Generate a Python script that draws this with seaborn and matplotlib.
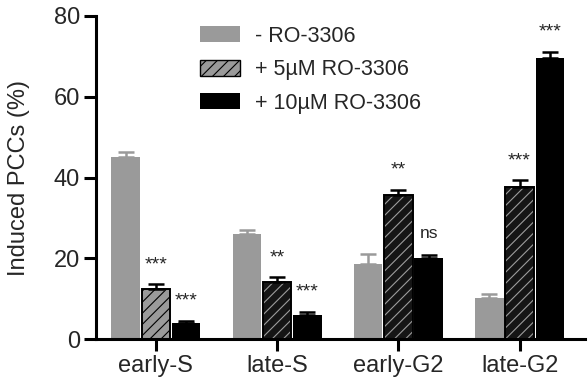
import numpy as np
import pandas as pd
import matplotlib.pyplot as plt
import seaborn as sns
from matplotlib.patches import Patch, Rectangle

# --- data ---
phases = ['early-S', 'late-S', 'early-G2', 'late-G2']
treatments = ['- RO-3306', '+ 5µM RO-3306', '+ 10µM RO-3306']
no_ro = [45.2, 26.1, 18.6, 10.2]
ro_5 = [12.4, 14.2, 35.6, 37.7]
ro_10 = [4.0, 6.0, 20.0, 69.5]
err_no_ro = [1.2, 1.0, 2.5, 1.0]
err_ro_5 = [1.3, 1.1, 1.4, 1.7]
err_ro_10 = [0.6, 0.8, 0.9, 1.7]
sig_ro_5 = ['***', '**', '**', '***']
sig_ro_10 = ['***', '***', 'ns', '***']

values = [no_ro, ro_5, ro_10]
errors = [err_no_ro, err_ro_5, err_ro_10]
signif = [None, sig_ro_5, sig_ro_10]

df = pd.DataFrame({
    'phase': np.tile(phases, 3),
    'treatment': np.repeat(treatments, 4),
    'pct': no_ro + ro_5 + ro_10,
})

sns.set_style('ticks')
plt.rcParams['font.family'] = ['Liberation Sans', 'DejaVu Sans']
plt.rcParams['hatch.linewidth'] = 0.8

gray = '#9a9a9a'
fig = plt.figure(figsize=(5.88, 3.84), dpi=100)
ax = fig.add_axes([0.163, 0.1164, 0.832, 0.842])

sns.barplot(data=df, x='phase', y='pct', hue='treatment', order=phases,
            hue_order=treatments, palette=[gray, '#111111', 'black'],
            errorbar=None, width=0.75, gap=0.06, saturation=1,
            linewidth=0, legend=False, ax=ax)
bar_conts = list(ax.containers)

# style the hatched (5 µM) bars: first one grey with dark hatch, rest dark with light hatch
for i, bar in enumerate(bar_conts[1]):
    bar.set_hatch('///')
    if i == 0:
        bar.set_facecolor(gray)
        bar.set_edgecolor('black')
        bar.set_linewidth(1.4)
    else:
        bar.set_facecolor('#151515')
        bar.set_edgecolor('#9c9c9c')
        bar.set_linewidth(0)
        # black outline on top of the light hatch
        ax.add_patch(Rectangle(bar.get_xy(), bar.get_width(), bar.get_height(),
                               fill=False, edgecolor='black', linewidth=1.4, zorder=2.5))

# upward-only error bars + significance marks
err_colors = [gray, 'black', 'black']
for k, cont in enumerate(bar_conts):
    xs = [b.get_x() + b.get_width() / 2 for b in cont]
    ys = values[k]
    es = errors[k]
    ax.errorbar(xs, ys, yerr=[np.zeros(len(es)), es], fmt='none',
                ecolor=err_colors[k], elinewidth=1.8, capsize=5.5, capthick=1.8, zorder=3)
    if signif[k] is not None:
        for x, y, e, s in zip(xs, ys, es, signif[k]):
            if s == 'ns':
                ax.text(x, y + e + 3.4, s, ha='center', va='bottom', fontsize=12.5)
            else:
                ax.text(x, y + e + 2.7, s, ha='center', va='bottom', fontsize=14)

# legend
handles = [
    Patch(facecolor=gray, edgecolor='none'),
    Patch(facecolor=gray, edgecolor='black', hatch='///', linewidth=1.0),
    Patch(facecolor='black', edgecolor='none'),
]
ax.legend(handles, treatments, loc='upper left', bbox_to_anchor=(0.173, 1.03),
          frameon=False, fontsize=15.5, handlelength=1.86, handleheight=0.75,
          labelspacing=0.58, handletextpad=0.68)

ax.set_xlim(-0.495, 3.54)
ax.set_ylim(0, 80)
ax.set_yticks([0, 20, 40, 60, 80])
ax.set_xlabel('')
ax.set_ylabel('Induced PCCs (%)', fontsize=17, labelpad=17)
sns.despine(ax=ax)
for side in ['left', 'bottom']:
    ax.spines[side].set_linewidth(2.2)
    ax.spines[side].set_color('black')
ax.tick_params(axis='both', width=2.2, length=8.5, color='black', labelsize=17, pad=3)

fig.savefig('out.png', dpi=100)
